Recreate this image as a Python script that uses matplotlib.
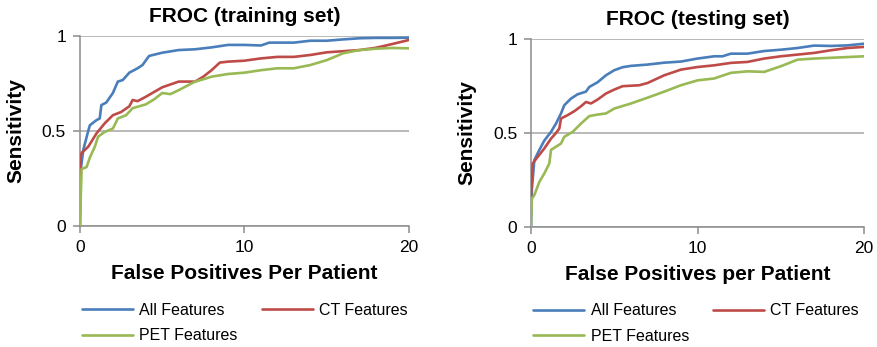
import matplotlib
matplotlib.use("Agg")
import matplotlib.pyplot as plt

plt.rcParams['font.family'] = ['Liberation Sans', 'DejaVu Sans']

BLUE = '#4A7EBB'
RED = '#BE4B48'
GREEN = '#98B954'

# ---- training set curves ----
train_all_x = [0, 0.05, 0.2, 0.5, 0.6, 1.0, 1.2, 1.3, 1.6, 2.0, 2.3, 2.6, 3.0, 3.5, 3.8, 4.2, 5, 6, 7, 8, 9, 10, 11, 11.5, 12, 13, 14, 15, 16, 17, 18, 19, 20]
train_all_y = [0, 0.30, 0.40, 0.50, 0.53, 0.557, 0.566, 0.636, 0.65, 0.70, 0.76, 0.768, 0.807, 0.83, 0.847, 0.895, 0.912, 0.926, 0.93, 0.94, 0.953, 0.953, 0.95, 0.965, 0.965, 0.965, 0.975, 0.975, 0.982, 0.988, 0.99, 0.99, 0.991]

train_ct_x = [0, 0.05, 0.1, 0.5, 1.0, 1.5, 2.0, 2.5, 3.0, 3.2, 3.5, 4, 5, 6, 7, 7.5, 8, 8.5, 9, 10, 11, 12, 13, 14, 15, 16, 17, 18, 19, 20]
train_ct_y = [0.25, 0.37, 0.385, 0.417, 0.487, 0.54, 0.583, 0.60, 0.63, 0.663, 0.657, 0.68, 0.73, 0.76, 0.76, 0.786, 0.82, 0.86, 0.865, 0.87, 0.882, 0.89, 0.89, 0.90, 0.914, 0.92, 0.926, 0.938, 0.958, 0.979]

train_pet_x = [0, 0.05, 0.1, 0.4, 0.6, 0.9, 1.1, 1.5, 2.0, 2.3, 2.8, 3.2, 4, 4.5, 5, 5.5, 6, 7, 7.5, 8, 9, 10, 11, 12, 13, 14, 15, 16, 17, 18, 19, 20]
train_pet_y = [0, 0.17, 0.30, 0.31, 0.36, 0.417, 0.47, 0.495, 0.513, 0.566, 0.583, 0.62, 0.64, 0.666, 0.70, 0.694, 0.715, 0.76, 0.772, 0.786, 0.80, 0.807, 0.82, 0.83, 0.83, 0.847, 0.873, 0.909, 0.926, 0.933, 0.937, 0.935]

# ---- testing set curves ----
test_all_x = [0, 0.05, 0.2, 0.5, 0.8, 1.2, 1.5, 1.8, 2.0, 2.4, 2.8, 3.3, 3.5, 4, 4.5, 5, 5.5, 6, 7, 8, 9, 10, 11, 11.5, 12, 13, 14, 15, 16, 17, 18, 19, 20]
test_all_y = [0, 0.20, 0.356, 0.41, 0.46, 0.506, 0.55, 0.604, 0.648, 0.683, 0.706, 0.72, 0.745, 0.77, 0.807, 0.834, 0.85, 0.857, 0.864, 0.874, 0.88, 0.896, 0.908, 0.908, 0.922, 0.922, 0.936, 0.943, 0.952, 0.965, 0.963, 0.966, 0.975]

test_ct_x = [0, 0.1, 0.4, 0.8, 1.2, 1.5, 1.7, 1.8, 2.2, 2.6, 3.0, 3.3, 3.6, 4, 4.5, 5, 5.5, 6.5, 7, 8, 9, 10, 11, 12, 13, 14, 15, 16, 17, 18, 19, 20]
test_ct_y = [0.16, 0.338, 0.373, 0.418, 0.47, 0.50, 0.524, 0.577, 0.595, 0.616, 0.642, 0.665, 0.657, 0.678, 0.71, 0.731, 0.749, 0.754, 0.766, 0.807, 0.837, 0.851, 0.86, 0.873, 0.878, 0.896, 0.908, 0.917, 0.926, 0.94, 0.952, 0.958]

test_pet_x = [0, 0.05, 0.2, 0.5, 0.8, 1.0, 1.1, 1.2, 1.5, 1.8, 2.0, 2.5, 3.0, 3.5, 4, 4.5, 5, 6, 7, 8, 9, 10, 11, 12, 13, 14, 15, 16, 17, 18, 19, 20]
test_pet_y = [0, 0.15, 0.17, 0.24, 0.285, 0.32, 0.338, 0.41, 0.427, 0.444, 0.48, 0.506, 0.55, 0.59, 0.598, 0.604, 0.63, 0.657, 0.688, 0.72, 0.754, 0.78, 0.79, 0.82, 0.828, 0.825, 0.855, 0.89, 0.896, 0.90, 0.904, 0.908]

series_names = ['All Features', 'CT Features', 'PET Features']
series_colors = [BLUE, RED, GREEN]

panels = [
    ('FROC (training set)', 'False Positives Per Patient',
     [(train_all_x, train_all_y), (train_ct_x, train_ct_y), (train_pet_x, train_pet_y)]),
    ('FROC (testing set)', 'False Positives per Patient',
     [(test_all_x, test_all_y), (test_ct_x, test_ct_y), (test_pet_x, test_pet_y)]),
]

fig = plt.figure(figsize=(8.78, 3.47), dpi=100)
axes_rects = [[0.0911, 0.3487, 0.3747, 0.5476],
              [0.6048, 0.3458, 0.3793, 0.5418]]

for rect, (title, xlabel, curves) in zip(axes_rects, panels):
    ax = fig.add_axes(rect)
    handles = []
    for (xs, ys), name, col in zip(curves, series_names, series_colors):
        h, = ax.plot(xs, ys, color=col, lw=1.9, label=name,
                     solid_joinstyle='round', solid_capstyle='round', zorder=3)
        handles.append(h)

    ax.set_xlim(0, 20)
    ax.set_ylim(0, 1)
    ax.set_xticks([0, 10, 20])
    ax.set_yticks([0, 0.5, 1])
    ax.set_yticklabels(['0', '0.5', '1'])
    ax.yaxis.grid(True, color='#A6A6A6', lw=1.1)
    ax.set_axisbelow(True)
    for side in ('top', 'right'):
        ax.spines[side].set_visible(False)
    for side in ('left', 'bottom'):
        ax.spines[side].set_color('#8C8C8C')
        ax.spines[side].set_linewidth(1.1)
    ax.tick_params(length=5, width=1.1, color='#8C8C8C', labelsize=12.5, pad=5)

    ax.set_title(title, fontsize=15, fontweight='bold', pad=10)
    ax.set_xlabel(xlabel, fontsize=15, fontweight='bold')
    ax.set_ylabel('Sensitivity', fontsize=15, fontweight='bold')
    ax.yaxis.set_label_coords(-0.165, 0.5)
    ax.xaxis.set_label_coords(0.5, -0.2)

    # two columns: All / CT on the first row, PET below
    order = [0, 2, 1]
    ax.legend([handles[i] for i in order], [series_names[i] for i in order],
              ncol=2, loc='upper left', bbox_to_anchor=(0.006, -0.405),
              frameon=False, fontsize=11.5, handlelength=3.2, handletextpad=0.4,
              columnspacing=1.5, labelspacing=0.65, borderpad=0, borderaxespad=0)

fig.savefig('out.png', dpi=100)
